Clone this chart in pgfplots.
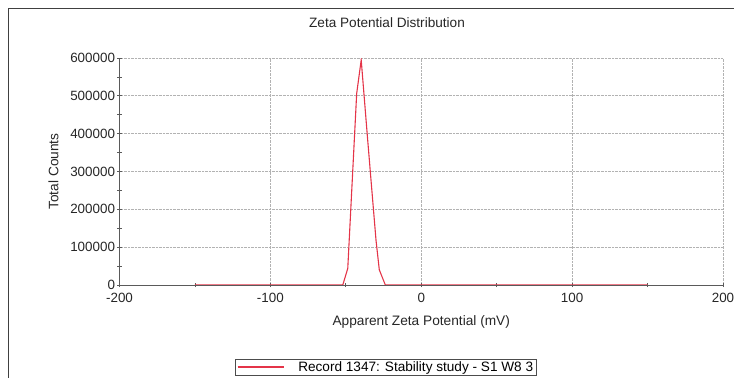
\documentclass[border=0pt]{standalone}
\usepackage{pgfplots}
\pgfplotsset{compat=1.18}
\usepackage{fontspec}
\setmainfont{Liberation Sans}
\definecolor{zred}{RGB}{228,52,72}
\definecolor{axgray}{RGB}{90,90,90}
\begin{document}
\begin{tikzpicture}
\useasboundingbox (0,0) rectangle (734bp,378bp);
\draw[line width=1.6bp, black!75] (8.5bp,0) -- (8.5bp,369.5bp) -- (734bp,369.5bp);
\node[font=\fontsize{13.6bp}{15bp}\selectfont, black!85] at (387bp,355bp) {Zeta Potential Distribution};
\begin{axis}[
  at={(119.5bp,93bp)}, anchor=south west,
  scale only axis, width=603.5bp, height=227bp,
  xmin=-200, xmax=200, ymin=0, ymax=600000,
  axis x line=bottom, axis y line=left,
  axis line style={-, axgray, line width=0.9bp},
  xtick={-200,-100,0,100,200},
  ytick={0,100000,200000,300000,400000,500000,600000},
  minor x tick num=1, minor y tick num=1,
  tick align=center,
  major tick length=4bp, minor tick length=4bp,
  every tick/.style={axgray, line width=0.8bp},
  grid=major,
  major grid style={densely dotted, black!30, line width=0.8bp},
  scaled y ticks=false,
  /pgf/number format/assume math mode=true,
  /pgf/number format/fixed,
  /pgf/number format/1000 sep={},
  tick label style={font=\fontsize{13.4bp}{15bp}\selectfont, black!85},
  xticklabel style={yshift=-3bp},
  yticklabel style={xshift=1bp},
  xlabel={Apparent Zeta Potential (mV)},
  ylabel={Total Counts},
  label style={font=\fontsize{13.7bp}{15bp}\selectfont, black!85},
  xlabel style={yshift=-6bp},
  ylabel style={yshift=5bp},
  legend style={at={(0.4416,-0.362)}, anchor=center,
    font=\fontsize{13.6bp}{15bp}\selectfont, inner xsep=1bp, inner ysep=0.5bp,
    nodes={inner xsep=2bp}},
  every axis legend/.append style={draw=black!70, line width=0.9bp},
  legend image code/.code={%
    \pgfsetstrokecolor{zred}\pgfsetlinewidth{1.4bp}%
    \pgfpathmoveto{\pgfqpoint{0bp}{0bp}}\pgfpathlineto{\pgfqpoint{46bp}{0bp}}%
    \pgfusepath{stroke}%
    \path (58bp,0bp);},
]
\addplot[zred, line width=1.1bp] coordinates {
(-150,0) (-100,0) (-60,0) (-52,0) (-48.7,44000) (-42.8,506000) (-39.8,595000)
(-35.5,383000) (-30,119000) (-27.8,40000) (-23.8,0) (0,0) (50,0) (100,0) (150,0)
};
\addlegendentry{Record 1347: Stability study - S1 W8 3}
\end{axis}
\end{tikzpicture}
\end{document}
